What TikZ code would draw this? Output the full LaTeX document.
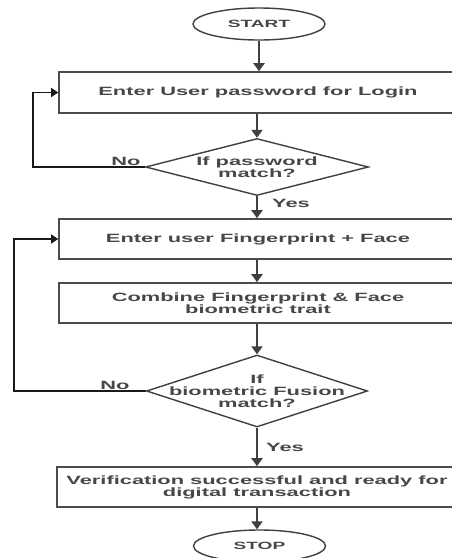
\documentclass[tikz,border=0pt]{standalone}
\usepackage{fontspec}
\setmainfont{Liberation Sans}[FakeStretch=1.82]
\usetikzlibrary{shapes.geometric,arrows.meta}
\begin{document}
\begin{tikzpicture}[x=1pt,y=-1pt,
  proc/.style={draw=black!70, line width=1.6pt, minimum width=398pt, minimum height=41pt,
    inner sep=0pt, align=center, font=\fontsize{12}{12}\selectfont\bfseries, text=black!72},
  term/.style={ellipse, draw=black!75, line width=1.4pt, minimum width=132pt, minimum height=32pt,
    inner sep=0pt, font=\fontsize{10.5}{12}\selectfont\bfseries, text=black!72},
  dia/.style={diamond, draw=black!75, line width=1.4pt, inner sep=0pt},
  diatext/.style={align=center, inner sep=0pt, font=\fontsize{12}{12.2}\selectfont\bfseries, text=black!72},
  flow/.style={draw=black!75, line width=2.4pt, -{Triangle[width=11pt,length=8pt]}},
  back/.style={draw=black!90, line width=1.5pt, -{Triangle[width=9pt,length=7pt]}},
  lbl/.style={font=\fontsize{12}{12}\selectfont\bfseries, inner sep=0pt, text=black!72}]
\useasboundingbox (0,0) rectangle (452,558);
\fill[white] (0,0) rectangle (452,558);

\node[term] (start) at (259,24) {START};
\node[proc] (b1) at (258,92.5) {Enter User password for Login};
\node[dia, minimum width=223pt, minimum height=57pt] (d1) at (257,167) {};
\node[diatext] (t1) at (d1.center) {If password\\match?};
\node[proc, minimum height=40pt] (b2) at (258,239) {Enter user Fingerprint + Face};
\node[proc, minimum height=40pt] (b3) at (258,303) {Combine Fingerprint \& Face\\biometric trait};
\node[dia, minimum width=221pt, minimum height=72pt] (d2) at (257,391) {};
\node[diatext] (t2) at (d2.center) {If\\biometric Fusion\\match?};
\node[proc, minimum width=400pt, minimum height=40pt] (b4) at (257,487) {Verification successful and ready for\\digital transaction};
\node[term] (stop) at (259.5,546) {STOP};

\coordinate (c1) at (33,167);
\coordinate (c2) at (33,92.5);
\coordinate (c3) at (14,391);
\coordinate (c4) at (14,239);

\draw[flow] (start.south) -- (b1.north -| start.south);
\draw[flow] (b1.south -| d1.north) -- (d1.north);
\draw[flow] (d1.south) -- (b2.north -| d1.south);
\draw[flow] (b2.south -| d1.south) -- (b3.north -| d1.south);
\draw[flow] (b3.south -| d2.north) -- (d2.north);
\draw[flow] (d2.south) -- (b4.north -| d2.south);
\draw[flow] (b4.south -| d2.south) -- (stop.north -| d2.south);

\draw[back] (d1.west) -- (c1) -- (c2) -- (b1.west);
\draw[back] (d2.west) -- (c3) -- (c4) -- (b2.west);

\node[lbl] (no1) at (126,161) {No};
\node[lbl] (no2) at (115,385) {No};
\node[lbl] (yes1) at (291,203) {Yes};
\node[lbl] (yes2) at (285,447) {Yes};
\end{tikzpicture}
\end{document}
